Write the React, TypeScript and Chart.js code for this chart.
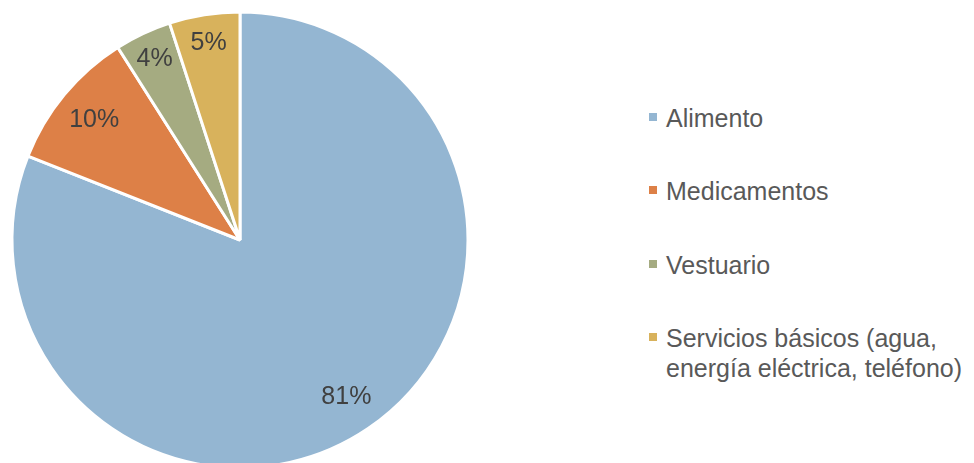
import React, { useEffect, useRef } from "react";
import { Chart, registerables } from "chart.js";

Chart.register(...registerables);

const categories = [
  "Alimento",
  "Medicamentos",
  "Vestuario",
  "Servicios básicos (agua, energía eléctrica, teléfono)",
];
const legendLines = [
  ["Alimento"],
  ["Medicamentos"],
  ["Vestuario"],
  ["Servicios básicos (agua,", "energía eléctrica, teléfono)"],
];
const values = [81, 10, 4, 5];
const colors = ["#94B6D2", "#DD8047", "#A5AB81", "#D8B25C"];
const legendTops = [103, 176, 250, 323];

const labelPlugin = {
  id: "pctLabels",
  afterDatasetsDraw(chart: any) {
    const { ctx } = chart;
    const meta = chart.getDatasetMeta(0);
    const data = chart.data.datasets[0].data as number[];
    const total = data.reduce((a, b) => a + b, 0);
    ctx.save();
    ctx.font = '25px "Liberation Sans", Arial, sans-serif';
    ctx.fillStyle = "#404040";
    ctx.textAlign = "center";
    ctx.textBaseline = "middle";
    meta.data.forEach((arc: any, i: number) => {
      const p = arc.getProps(["x", "y", "startAngle", "endAngle", "outerRadius"], true);
      const mid = (p.startAngle + p.endAngle) / 2;
      const share = data[i] / total;
      const f = share < 0.07 ? 0.88 : 0.83;
      const x = p.x + Math.cos(mid) * p.outerRadius * f;
      const y = p.y + Math.sin(mid) * p.outerRadius * f;
      ctx.fillText(Math.round(share * 100) + "%", x, y + 1);
    });
    ctx.restore();
  },
};

export default function App() {
  const ref = useRef<HTMLCanvasElement>(null);
  useEffect(() => {
    if (!ref.current) return;
    const chart = new Chart(ref.current, {
      type: "pie",
      data: {
        labels: categories,
        datasets: [
          {
            data: values,
            backgroundColor: colors,
            borderColor: "#ffffff",
            borderWidth: 3,
          },
        ],
      },
      options: {
        responsive: false,
        animation: false,
        radius: 228,
        layout: { padding: 0 },
        plugins: {
          legend: { display: false },
          tooltip: { enabled: false },
        },
      } as any,
      plugins: [labelPlugin],
    });
    return () => chart.destroy();
  }, []);

  return (
    <div
      style={{
        position: "absolute",
        left: 0,
        top: 0,
        width: 974,
        height: 463,
        overflow: "hidden",
        background: "#ffffff",
      }}
    >
      <canvas
        ref={ref}
        width={480}
        height={480}
        style={{ position: "absolute", left: 0, top: 0, width: 480, height: 480 }}
      />
      {legendLines.map((lines, i) => (
        <div
          key={i}
          style={{
            position: "absolute",
            left: 666,
            top: legendTops[i],
            fontFamily: '"Liberation Sans", Arial, sans-serif',
            fontSize: 25,
            lineHeight: "30px",
            color: "#595959",
            whiteSpace: "nowrap",
          }}
        >
          <span
            style={{
              position: "absolute",
              left: -17,
              top: 10,
              width: 8,
              height: 8,
              background: colors[i],
            }}
          />
          {lines.map((l, j) => (
            <div key={j}>{l}</div>
          ))}
        </div>
      ))}
    </div>
  );
}
